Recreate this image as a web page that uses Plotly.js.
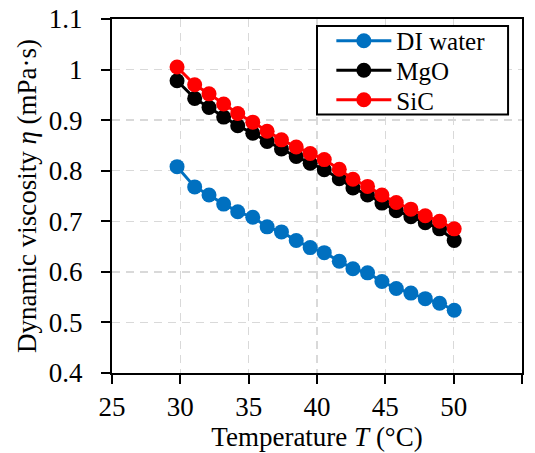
<!DOCTYPE html>
<html>
<head>
<meta charset="utf-8">
<script src="https://cdn.plot.ly/plotly-3.0.1.min.js"></script>
<style>html,body{margin:0;padding:0;background:#fff;}#chart{width:535px;height:453px;}</style>
</head>
<body>
<div id="chart"></div>
<script>
var temperature = [29.76, 31.05, 32.1, 33.17, 34.2, 35.3, 36.35, 37.4, 38.48, 39.5, 40.53, 41.63, 42.63, 43.7, 44.75, 45.8, 46.87, 47.92, 48.97, 50.04];
var diWater = [0.808, 0.768, 0.752, 0.734, 0.719, 0.708, 0.689, 0.679, 0.662, 0.648, 0.638, 0.621, 0.606, 0.598, 0.581, 0.567, 0.558, 0.547, 0.538, 0.524];
var mgo = [0.978, 0.943, 0.925, 0.906, 0.889, 0.874, 0.858, 0.843, 0.828, 0.815, 0.802, 0.784, 0.766, 0.752, 0.736, 0.721, 0.709, 0.697, 0.685, 0.662];
var sic = [1.005, 0.970, 0.952, 0.932, 0.913, 0.896, 0.878, 0.861, 0.847, 0.834, 0.822, 0.803, 0.783, 0.769, 0.752, 0.737, 0.724, 0.711, 0.700, 0.685];
var seriesNames = ['DI water', 'MgO', 'SiC'];
var seriesColors = ['#0070C0', '#000000', '#FF0000'];
var seriesValues = [diWater, mgo, sic];
var legendIds = ['legend', 'legend2', 'legend3'];

var traces = seriesValues.map(function (vals, i) {
  return {
    x: temperature, y: vals, name: seriesNames[i],
    type: 'scatter', mode: 'lines+markers',
    line: {color: seriesColors[i], width: 3},
    marker: {color: seriesColors[i], size: 15},
    legend: legendIds[i]
  };
});

var font = 'Liberation Serif, Times New Roman, serif';
var axisCommon = {
  showline: true, linecolor: '#000', linewidth: 2, mirror: true,
  ticks: 'outside', ticklen: 9, tickwidth: 2, tickcolor: '#000',
  showgrid: true, gridcolor: '#d9d9d9', gridwidth: 1.5, griddash: '8px,6px',
  zeroline: false, tickfont: {family: font, size: 27, color: '#000'}
};

function legendAt(y) {
  return {
    x: 0.535, y: y, xanchor: 'left', yanchor: 'middle',
    borderwidth: 0, bgcolor: 'rgba(0,0,0,0)',
    font: {family: font, size: 25, color: '#000'},
    itemwidth: 55
  };
}

var layout = {
  width: 535, height: 453,
  margin: {l: 112, r: 13, t: 19, b: 80},
  paper_bgcolor: '#fff', plot_bgcolor: '#fff',
  font: {family: font, size: 27, color: '#000'},
  showlegend: true,
  legend: legendAt(0.938),
  legend2: legendAt(0.8545),
  legend3: legendAt(0.771),
  shapes: [{
    type: 'rect', xref: 'paper', yref: 'paper', layer: 'above',
    x0: 0.5, x1: 0.966, y0: 0.73, y1: 0.98,
    line: {color: '#000', width: 2}, fillcolor: '#fff'
  }],
  xaxis: Object.assign({}, axisCommon, {
    range: [25, 55], dtick: 5, tick0: 25,
    ticklabelstandoff: 0,
    title: {text: 'Temperature <i>T</i> (°C)', font: {family: font, size: 27, color: '#000'}, standoff: 5}
  }),
  yaxis: Object.assign({}, axisCommon, {
    range: [0.4, 1.1], dtick: 0.1, tick0: 0.4,
    ticklabelstandoff: 13,
    tickformat: '.1~f',
    title: {text: 'Dynamic viscosity <i>η</i> (mPa·s)', font: {family: font, size: 27, color: '#000'}, standoff: 4}
  })
};

Plotly.newPlot('chart', traces, layout, {displayModeBar: false, staticPlot: true});
</script>
</body>
</html>
